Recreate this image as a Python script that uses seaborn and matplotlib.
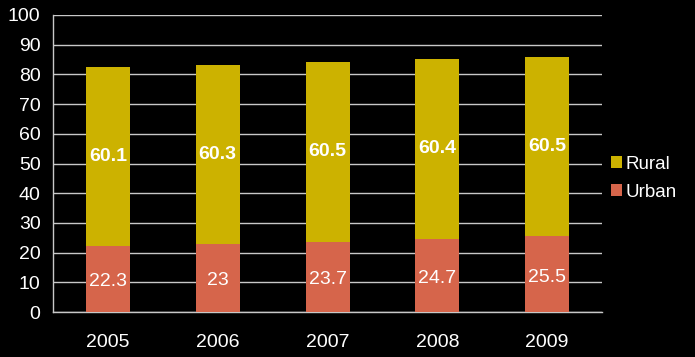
import numpy as np
import pandas as pd
import matplotlib
matplotlib.use('Agg')
import matplotlib.pyplot as plt
import seaborn as sns
from matplotlib.patches import Patch

years = ['2005', '2006', '2007', '2008', '2009']
urban = [22.3, 23.0, 23.7, 24.7, 25.5]
rural = [60.1, 60.3, 60.5, 60.4, 60.5]
urban_labels = ['22.3', '23', '23.7', '24.7', '25.5']
rural_labels = ['60.1', '60.3', '60.5', '60.4', '60.5']

UrbanColor = '#D6654B'
RuralColor = '#CCB200'
GridColor = '#C8C8C8'

df = pd.DataFrame({'year': years, 'urban': urban, 'rural': rural})
df['total'] = df['urban'] + df['rural']

sns.set_style('dark')
plt.rcParams['font.family'] = ['Liberation Sans', 'DejaVu Sans']

fig = plt.figure(figsize=(6.95, 3.57), dpi=100, facecolor='black')
ax = fig.add_axes([0.0763, 0.126, 0.79, 0.832])
ax.set_facecolor('black')

# stacked: total first, urban drawn over it
sns.barplot(data=df, x='year', y='total', color=RuralColor, saturation=1, width=0.4, ax=ax, zorder=3, linewidth=0)
sns.barplot(data=df, x='year', y='urban', color=UrbanColor, saturation=1, width=0.4, ax=ax, zorder=3, linewidth=0)

for i in range(len(years)):
	ax.text(i, urban[i] / 2.0 - 1, urban_labels[i], ha='center', va='center', color='white', fontsize=14, zorder=5)
	ax.text(i, urban[i] + rural[i] / 2.0, rural_labels[i], ha='center', va='center', color='white', fontsize=14, fontweight='bold', zorder=5)

ax.set_ylim(0, 100)
ax.set_xlim(-0.5, 4.5)
ax.set_yticks(np.arange(0, 101, 10))
ax.yaxis.grid(True, color=GridColor, linewidth=1, zorder=0)
ax.xaxis.grid(False)
ax.set_axisbelow(True)

ax.set_xticks(np.arange(-0.5, 5, 1), minor=True)
ax.tick_params(axis='x', which='major', length=0, pad=16, colors='white', labelsize=14)
ax.tick_params(axis='x', which='minor', length=5, color=GridColor, width=1)
ax.tick_params(axis='y', which='major', length=5, color=GridColor, width=1, pad=4, labelsize=14)
for lab in ax.get_yticklabels():
	lab.set_color('white')

for s in ['top', 'right']:
	ax.spines[s].set_visible(False)
for s in ['left', 'bottom']:
	ax.spines[s].set_visible(True)
	ax.spines[s].set_color(GridColor)
	ax.spines[s].set_linewidth(1)

ax.set_xlabel('')
ax.set_ylabel('')

handles = [Patch(facecolor=RuralColor, edgecolor='none', label='Rural'),
		   Patch(facecolor=UrbanColor, edgecolor='none', label='Urban')]
leg = fig.legend(handles=handles, loc='center left', bbox_to_anchor=(0.879, 0.501), frameon=False, borderpad=0,
				 borderaxespad=0, fontsize=13.5, labelcolor='white', handlelength=0.6, handleheight=0.6,
				 handletextpad=0.2, labelspacing=0.6)

plt.savefig('out.png', dpi=100, facecolor='black')
